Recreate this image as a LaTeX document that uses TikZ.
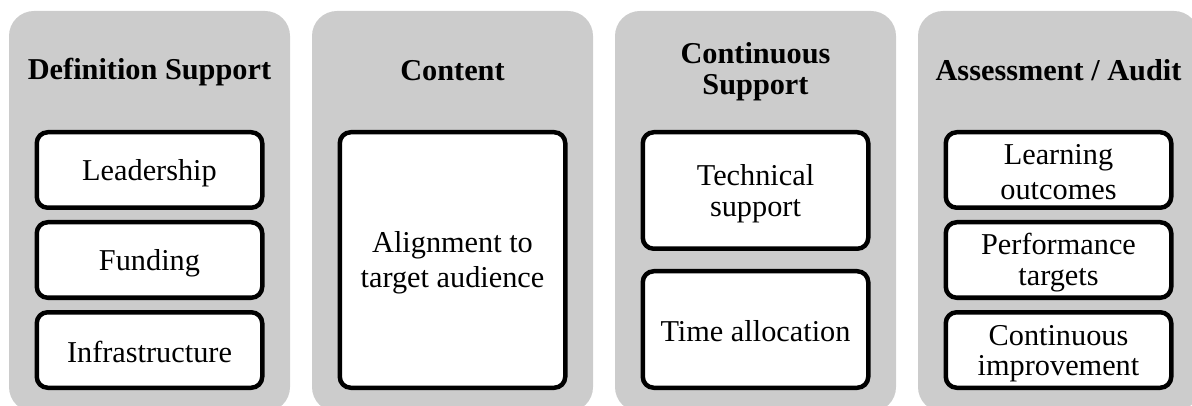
\documentclass[tikz,border=0pt]{standalone}
\usepackage{fontspec}
\setmainfont{Liberation Serif}
\definecolor{colgrey}{RGB}{204,204,204}
\newcommand{\mystrut}{\rule[-3pt]{0pt}{30pt}}
\begin{document}
\begin{tikzpicture}[x=1pt,y=-1pt,
  column/.style={fill=colgrey, draw=none, rounded corners=25pt, minimum width=281pt, minimum height=401pt, inner sep=0pt},
  title/.style={font=\fontsize{30.3pt}{30.5pt}\selectfont\bfseries, align=center, inner sep=0pt},
  itembox/.style={draw=black, fill=white, line width=4.5pt, rounded corners=11pt, minimum width=225.5pt, align=center, inner sep=0pt, font=\fontsize{30.3pt}{30.5pt}\selectfont},
  short/.style={itembox, minimum height=75.5pt},
  mid/.style={itembox, minimum height=116.5pt},
  tall/.style={itembox, minimum height=255.5pt}]
\useasboundingbox (0,0) rectangle (1192,406);
\clip (0,0) rectangle (1192,406);
% columns
\node[column] (c1) at (149.5,211.5) {};
\node[column] (c2) at (452.5,211.5) {};
\node[column] (c3) at (755.5,211.5) {};
\node[column] (c4) at (1058.5,211.5) {};
% titles
\node[title] (t1) at (149.5,69) {Definition Support\mystrut};
\node[title] (t2) at (452.5,69) {Content\mystrut};
\node[title] (t3) at (755.5,68.5) {Continuous\mystrut\\Support\mystrut};
\node[title] (t4) at (1058.5,69) {Assessment / Audit\mystrut};
% column 1
\node[short] (b11) at (149.5,170) {Leadership\mystrut};
\node[short] (b12) at (149.5,260) {Funding\mystrut};
\node[short] (b13) at (149.5,350) {Infrastructure\mystrut};
% column 2
\node[tall] (b21) at (452.5,260) {Alignment to\mystrut\\target audience\mystrut};
% column 3
\node[mid] (b31) at (755.5,190.5) {Technical\mystrut\\support\mystrut};
\node[mid] (b32) at (755.5,329.5) {Time allocation\mystrut};
% column 4
\node[short] (b41) at (1058.5,170) {Learning\mystrut\\outcomes\mystrut};
\node[short] (b42) at (1058.5,260) {Performance\mystrut\\targets\mystrut};
\node[short] (b43) at (1058.5,350) {Continuous\mystrut\\improvement\mystrut};
\end{tikzpicture}
\end{document}
